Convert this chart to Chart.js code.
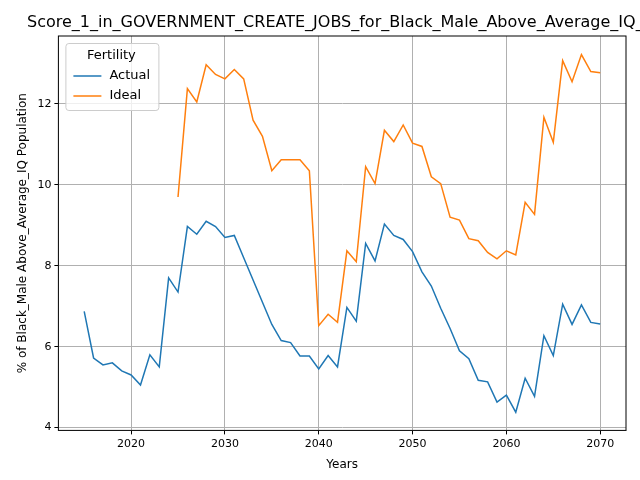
<!DOCTYPE html>
<html><head>
<script src="https://cdn.jsdelivr.net/npm/chart.js@4"></script>
<style>body{margin:0;background:#fff}#wrap{width:640px;height:480px}</style>
</head><body><div id="wrap"><canvas id="c"></canvas></div>
<script>
const actualYears = [];
for (let y = 2015; y <= 2070; y++) actualYears.push(y);
const actualValues = [6.87,5.72,5.55,5.6,5.4,5.3,5.05,5.8,5.5,7.7,7.35,8.97,8.78,9.1,8.97,8.7,8.75,8.2,7.65,7.1,6.55,6.15,6.1,5.77,5.77,5.45,5.78,5.5,6.97,6.63,8.55,8.12,9.03,8.75,8.65,8.35,7.85,7.5,6.95,6.45,5.9,5.7,5.17,5.13,4.63,4.8,4.38,5.22,4.77,6.27,5.78,7.05,6.55,7.03,6.6,6.56];
const idealYears = actualYears.slice(10);
const idealValues = [9.7,12.38,12.05,12.97,12.73,12.62,12.85,12.62,11.6,11.2,10.35,10.62,10.62,10.62,10.35,6.52,6.8,6.6,8.37,8.1,10.45,10.03,11.35,11.07,11.48,11.03,10.95,10.2,10.03,9.2,9.13,8.67,8.62,8.33,8.17,8.37,8.27,9.57,9.27,11.67,11.05,13.07,12.55,13.22,12.8,12.77];
const xTicks = [2020,2030,2040,2050,2060,2070];
const yTicks = [4,6,8,10,12];

const font = {family: 'DejaVu Sans', size: 12};
const titlePlugin = {
  id: 'ttl',
  afterDraw(chart) {
    const c = chart.ctx;
    c.save();
    c.font = '16px DejaVu Sans';
    c.fillStyle = '#000';
    c.textBaseline = 'middle';
    c.fillText('Score_1_in_GOVERNMENT_CREATE_JOBS_for_Black_Male_Above_Average_IQ_Population', 27, 23);
    c.restore();
  }
};
const frame = {
  id: 'frame',
  afterDatasetsDraw(chart) {
    const a = chart.chartArea, c = chart.ctx;
    c.save(); c.strokeStyle = '#000'; c.lineWidth = 1;
    c.strokeRect(a.left, a.top, a.right - a.left, a.bottom - a.top);
    // legend
    const x0 = a.left + 7, y0 = a.top + 7;
    c.fillStyle = 'rgba(255,255,255,0.8)'; c.strokeStyle = '#ccc';
    c.beginPath(); c.roundRect(x0 + 0.5, y0 + 0.5, 93, 67, 3); c.fill(); c.stroke();
    c.fillStyle = '#000'; c.font = '13px DejaVu Sans'; c.textBaseline = 'middle';
    c.textAlign = 'center'; c.fillText('Fertility', x0 + 46, y0 + 13);
    c.textAlign = 'left';
    chart.data.datasets.forEach((d, i) => {
      const yy = y0 + 33 + i * 20;
      c.strokeStyle = d.borderColor; c.lineWidth = 1.5;
      c.beginPath(); c.moveTo(x0 + 8, yy); c.lineTo(x0 + 36, yy); c.stroke();
      c.fillText(d.label, x0 + 44, yy);
    });
    c.restore();
  }
};
new Chart(document.getElementById('c'), {
  type: 'line',
  data: {
    datasets: [
      {label: 'Actual', data: actualYears.map((x, i) => ({x, y: actualValues[i]})), borderColor: '#1f77b4', backgroundColor: '#1f77b4', borderWidth: 1.5, pointRadius: 0},
      {label: 'Ideal', data: idealYears.map((x, i) => ({x, y: idealValues[i]})), borderColor: '#ff7f0e', backgroundColor: '#ff7f0e', borderWidth: 1.5, pointRadius: 0}
    ]
  },
  options: {
    responsive: true, maintainAspectRatio: false, animation: false,
    layout: {padding: {top: 36, right: 14, bottom: 4, left: 12}},
    plugins: {
      title: {display: false},
      legend: {display: false},
      tooltip: {enabled: false}
    },
    scales: {
      x: {
        type: 'linear', min: 2012.25, max: 2072.75,
        afterBuildTicks: ax => { ax.ticks = xTicks.map(v => ({value: v})); },
        ticks: {font: {family: 'DejaVu Sans', size: 11}, color: '#000', callback: v => String(v), maxRotation: 0},
        grid: {color: '#b0b0b0', tickColor: '#000', tickLength: 4},
        title: {display: true, text: 'Years', font, color: '#000'}
      },
      y: {
        min: 3.93, max: 13.68,
        afterBuildTicks: ax => { ax.ticks = yTicks.map(v => ({value: v})); },
        ticks: {font: {family: 'DejaVu Sans', size: 11}, color: '#000'},
        grid: {color: '#b0b0b0', tickColor: '#000', tickLength: 4},
        title: {display: true, text: '% of Black_Male Above_Average_IQ Population', font, color: '#000'}
      }
    }
  },
  plugins: [titlePlugin, frame]
});
</script></body></html>
